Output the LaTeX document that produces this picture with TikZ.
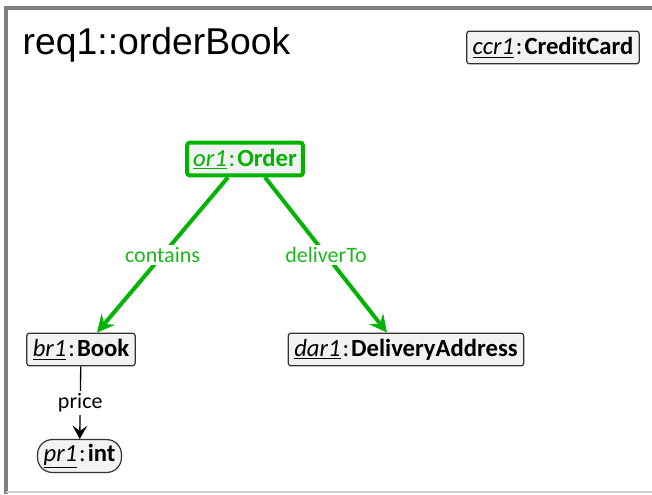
\documentclass[tikz,border=0pt]{standalone}
\usepackage{fontspec}
\setmainfont{Carlito}
\newfontfamily\titlefont{Liberation Sans}
\usetikzlibrary{arrows.meta}
\definecolor{linkgreen}{RGB}{0,180,0}
\definecolor{labelgreen}{RGB}{30,185,30}
\definecolor{boxfill}{RGB}{242,242,242}
\definecolor{framegray}{RGB}{128,128,128}
\newcommand{\inst}[2]{\underline{\textit{#1}}\hspace{0.08em}:\hspace{0.08em}\textbf{#2}}
\tikzset{
  obj/.style = {draw = black!80, fill = boxfill, rounded corners = 2pt, line width = 0.9pt,
    inner xsep = 4.5pt, minimum height = 24.5pt, font = \fontsize{18.5}{19}\selectfont},
  link/.style = {linkgreen, line width = 3pt, -{Stealth[length = 13pt, width = 13pt, inset = 4.5pt]}},
  linklabel/.style = {fill = white, text = labelgreen, inner sep = 2pt, font = \fontsize{16.5}{17}\selectfont}
}

\begin{document}
\begin{tikzpicture}[x = 0.75pt, y = -0.75pt]
      \useasboundingbox (0, 0) rectangle (652, 494);
      % frame
      \draw [framegray, line width = 3pt] (4, 8) -- (652, 8);
      \draw [framegray, line width = 3pt] (6, 6) -- (6, 494);
      \draw [black!20, line width = 1.5pt] (6, 492) -- (652, 492);
      \node [anchor = base west, font = \titlefont\fontsize{28}{30}\selectfont] (title) at (18, 54) {req1::orderBook};
      % objects
      \node [obj] (ccr1) at (553, 47.5) {\inst{ccr1}{CreditCard}};
      \node [obj, draw = linkgreen, line width = 3pt, text = linkgreen] (or1) at (245, 159) {\inst{or1}{Order}};
      \node [obj] (br1) at (81, 349.5) {\inst{br1}{Book}};
      \node [obj] (dar1) at (406, 349.5) {\inst{dar1}{DeliveryAddress}};
      \node [obj, rounded corners = 11pt] (pr1) at (79.5, 456) {\inst{pr1}{int}};
      % links
      \draw [link] (or1.south -| 228, 0) -- node [linklabel] {contains} (br1.north -| 97, 0);
      \draw [link] (or1.south -| 265, 0) -- node [linklabel] {deliverTo} (dar1.north -| 387, 0);
      \draw [black, line width = 1pt, -{Stealth[length = 10pt, width = 11pt, inset = 4pt]}]
        (br1) -- node [fill = white, inner sep = 2pt, font = \fontsize{16.5}{17}\selectfont] {price} (pr1);
    \end{tikzpicture}
\end{document}
